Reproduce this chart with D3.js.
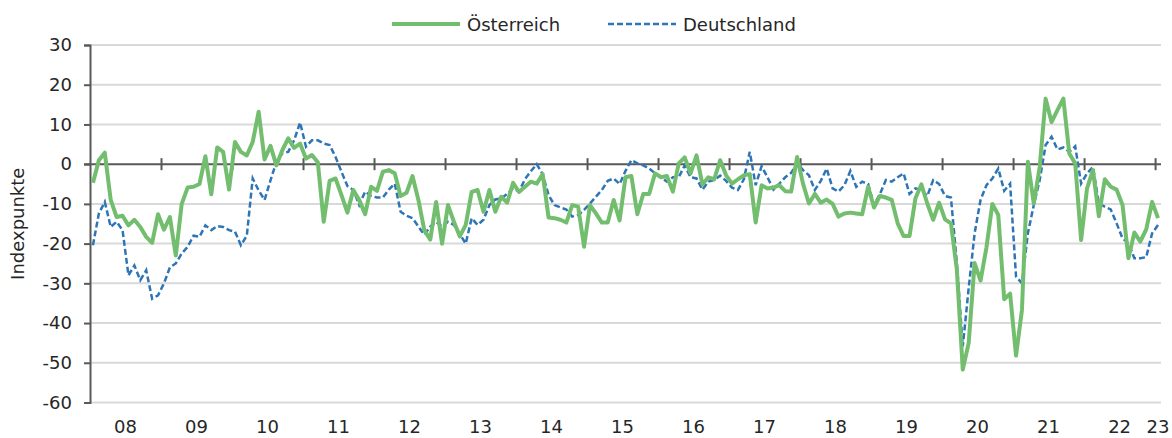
<!DOCTYPE html>
<html lang="de">
  <head>
    <meta charset="UTF-8" />
    <title>Österreich vs. Deutschland</title>
    <script src="https://cdn.jsdelivr.net/npm/d3@7/dist/d3.min.js"></script>
    <style>
      html,
      body {
        margin: 0;
        padding: 0;
        background: #fff;
      }
      svg {
        display: block;
        font-family: 'DejaVu Sans', sans-serif;
      }
      .lbl {
        font-size: 18px;
        fill: #262626;
      }
    </style>
  </head>
  <body>
    <svg width="1172" height="438"></svg>
    <script>
      // months Jan 2008 .. Jan 2023
      const yearLabels = ['08', '09', '10', '11', '12', '13', '14', '15', '16', '17', '18', '19', '20', '21', '22', '23'];
      const yTicks = [30, 20, 10, 0, -10, -20, -30, -40, -50, -60];

      const oesterreich = [
        -4.7, 1, 2.9, -9, -13.3, -13, -15.4, -14, -15.8, -18.3, -19.8, -12.6,
        -16.5, -13.3, -23, -10, -5.9, -5.7, -5, 2, -7.6, 4.2, 3.1, -6.4,
        5.6, 3.1, 2.2, 5.6, 13.2, 1.2, 4.6, -0.3, 3.5, 6.5, 4.1, 5.2,
        1.4, 2.3, 0.5, -14.5, -4.2, -3.6, -7.8, -12.2, -6.5, -9, -12.6, -5.7,
        -6.7, -1.9, -1.5, -2.3, -8, -7.2, -3, -9, -16.6, -19, -9.5, -20,
        -10.3, -14.5, -18.2, -15.3, -7, -6.5, -12, -6.5, -12, -8.2, -9.7, -4.7,
        -7, -5.7, -4.4, -4.9, -2.5, -13.4, -13.6, -14, -14.7, -10.3, -10.7, -20.8,
        -10.3, -12.4, -14.7, -14.7, -9, -14.2, -3.3, -3, -12.6, -7.5, -7.5, -2.3,
        -3.3, -3, -6.9, 0.2, 1.7, -2.3, 2.2, -5.1, -3.3, -3.8, 1, -2.8,
        -4.9, -3.8, -2.8, -2.5, -14.7, -5.3, -6.1, -5.9, -5.3, -6.8, -6.9, 1.8,
        -4.9, -9.9, -7.5, -9.7, -8.9, -10, -13.2, -12.4, -12.2, -12.4, -12.6, -5.7,
        -10.9, -8, -8.4, -9, -14.9, -18.1, -18.1, -8.6, -5.1, -9.9, -14, -9.7,
        -13.9, -14.9, -26.6, -51.7, -45, -24.9, -29.3, -21, -10, -12.8, -34, -32.6,
        -48.2, -36.7, 0.6, -9.9, -0.7, 16.5, 10.6, 13.6, 16.5, 2.7, 0.2, -19.1,
        -6.1, -1.5, -13.1, -3.8, -5.7, -6.4, -10.3, -23.7, -17.2, -19.5, -16.4, -9.5,
        -13.6
      ];

      const deutschland = [
        -20.4, -12.4, -9.5, -15.8, -14.5, -16.6, -28, -25.5, -29.2, -26.7, -33.9, -33,
        -30, -26, -25, -22.5, -20.8, -18, -18.3, -15.4, -16.6, -15.6, -15.8, -16.6,
        -17, -20.4, -18, -3.6, -6.6, -9, -4.1, 0.6, 2.7, 3.1, 6, 10.5,
        4.4, 6, 6, 5.2, 4.8, 1.8, -1.9, -5.5, -6.5, -10.3, -6.9, -8,
        -8.4, -8.4, -6.4, -4.9, -12, -13, -13.6, -15.7, -17.8, -15.7, -14.5, -15.7,
        -14.5, -15.3, -17.6, -20, -13.6, -15.3, -14, -10.3, -8.9, -8.6, -7.5, -6.1,
        -6.9, -3.8, -1.8, 0, -2.5, -7.8, -10.3, -10.9, -11.4, -13.2, -12.8, -11.5,
        -9.9, -8.2, -6.5, -4.2, -3.6, -5, -1.7, 1, 0.2, -0.3, -1.1, -2.3,
        -3.3, -4.4, -3.3, -3.3, -0.3, -3.3, -3.6, -6.4, -4.4, -4, -2.9, -4.2,
        -5.9, -6.5, -3.8, 3.1, -5.3, -0.5, -3.3, -6.4, -4.9, -3.3, -2.2, 0.3,
        -1.5, -2.8, -6.5, -4.2, -1.1, -6.1, -6.9, -5.3, -1.7, -5.7, -4.4, -5,
        -10.3, -7.5, -4, -4.4, -3.3, -2.3, -7.5, -6.1, -6.5, -8, -4, -5,
        -8, -8.4, -24.9, -45.9, -31.2, -17.4, -9, -5.3, -3.6, -1.1, -6.7, -4.9,
        -28.3, -30, -17.4, -10.3, -4, 4.8, 6.9, 3.7, 4.2, 3.1, 4.5, -4.9,
        -2.3, -0.7, -9.9, -10.7, -11.4, -14.9, -18.7, -19.9, -23.7, -23.7, -23.4, -17.4,
        -15.3
      ];

      const nMonths = oesterreich.length;
      const svg = d3.select('svg');

      const x = d3.scaleLinear().domain([0, nMonths]).range([90, 1161]);
      const y = d3.scaleLinear().domain([-60, 30]).range([402.5, 45]);

      // grid lines
      svg
        .append('g')
        .selectAll('line')
        .data(yTicks.filter(d => d !== 0))
        .join('line')
        .attr('x1', 90)
        .attr('x2', 1161)
        .attr('y1', d => y(d))
        .attr('y2', d => y(d))
        .attr('stroke', '#d9d9d9')
        .attr('stroke-width', 2);

      // y axis (plain hyphen for negatives, like the original)
      const yAxis = svg
        .append('g')
        .attr('transform', 'translate(90,0)')
        .call(
          d3
            .axisLeft(y)
            .tickValues(yTicks)
            .tickSize(6)
            .tickPadding(12)
            .tickFormat(d => String(d))
        );
      yAxis.select('.domain').attr('stroke', '#595959').attr('stroke-width', 2);
      yAxis.selectAll('.tick line').attr('stroke', '#595959').attr('stroke-width', 2);
      yAxis
        .selectAll('.tick text')
        .attr('class', 'lbl')
        .style('font-family', "'DejaVu Sans', sans-serif");

      // zero line with year ticks
      const yearTicks = d3.range(12, nMonths, 12);
      const xAxis = svg
        .append('g')
        .attr('transform', `translate(0,${y(0) - 6})`)
        .call(d3.axisBottom(x).tickValues(yearTicks).tickSize(12).tickSizeOuter(0).tickFormat(''));
      xAxis.select('.domain').remove();
      xAxis.selectAll('.tick line').attr('stroke', '#595959').attr('stroke-width', 2);
      svg
        .append('line')
        .attr('x1', 84)
        .attr('x2', 1161)
        .attr('y1', y(0))
        .attr('y2', y(0))
        .attr('stroke', '#595959')
        .attr('stroke-width', 2);

      // year labels
      svg
        .append('g')
        .selectAll('text')
        .data(yearLabels)
        .join('text')
        .attr('class', 'lbl')
        .attr('text-anchor', 'middle')
        .attr('x', (d, i) => x((i * 12 + Math.min(i * 12 + 12, nMonths)) / 2))
        .attr('y', 433)
        .text(d => d);

      // y title
      svg
        .append('text')
        .attr('class', 'lbl')
        .attr('text-anchor', 'middle')
        .attr('transform', `translate(24,${(y(30) + y(-60)) / 2}) rotate(-90)`)
        .text('Indexpunkte');

      const line = d3
        .line()
        .x((d, i) => x(i + 0.5))
        .y(d => y(d));

      svg
        .append('path')
        .datum(deutschland)
        .attr('d', line)
        .attr('fill', 'none')
        .attr('stroke', '#2e75b6')
        .attr('stroke-width', 2.5)
        .attr('stroke-dasharray', '6,3');

      svg
        .append('path')
        .datum(oesterreich)
        .attr('d', line)
        .attr('fill', 'none')
        .attr('stroke', '#72be6e')
        .attr('stroke-width', 4)
        .attr('stroke-linejoin', 'round');

      // legend
      const legend = [
        { name: 'Österreich', color: '#72be6e', width: 4, dash: null, x: 392 },
        { name: 'Deutschland', color: '#2e75b6', width: 2.5, dash: '6,3', x: 608 }
      ];
      const lg = svg
        .append('g')
        .selectAll('g')
        .data(legend)
        .join('g')
        .attr('transform', d => `translate(${d.x},24)`);
      lg.append('line')
        .attr('x1', 0)
        .attr('x2', 68)
        .attr('stroke', d => d.color)
        .attr('stroke-width', d => d.width)
        .attr('stroke-dasharray', d => d.dash);
      lg.append('text')
        .attr('class', 'lbl')
        .attr('x', 75)
        .attr('y', 6.5)
        .text(d => d.name);
    </script>
  </body>
</html>
